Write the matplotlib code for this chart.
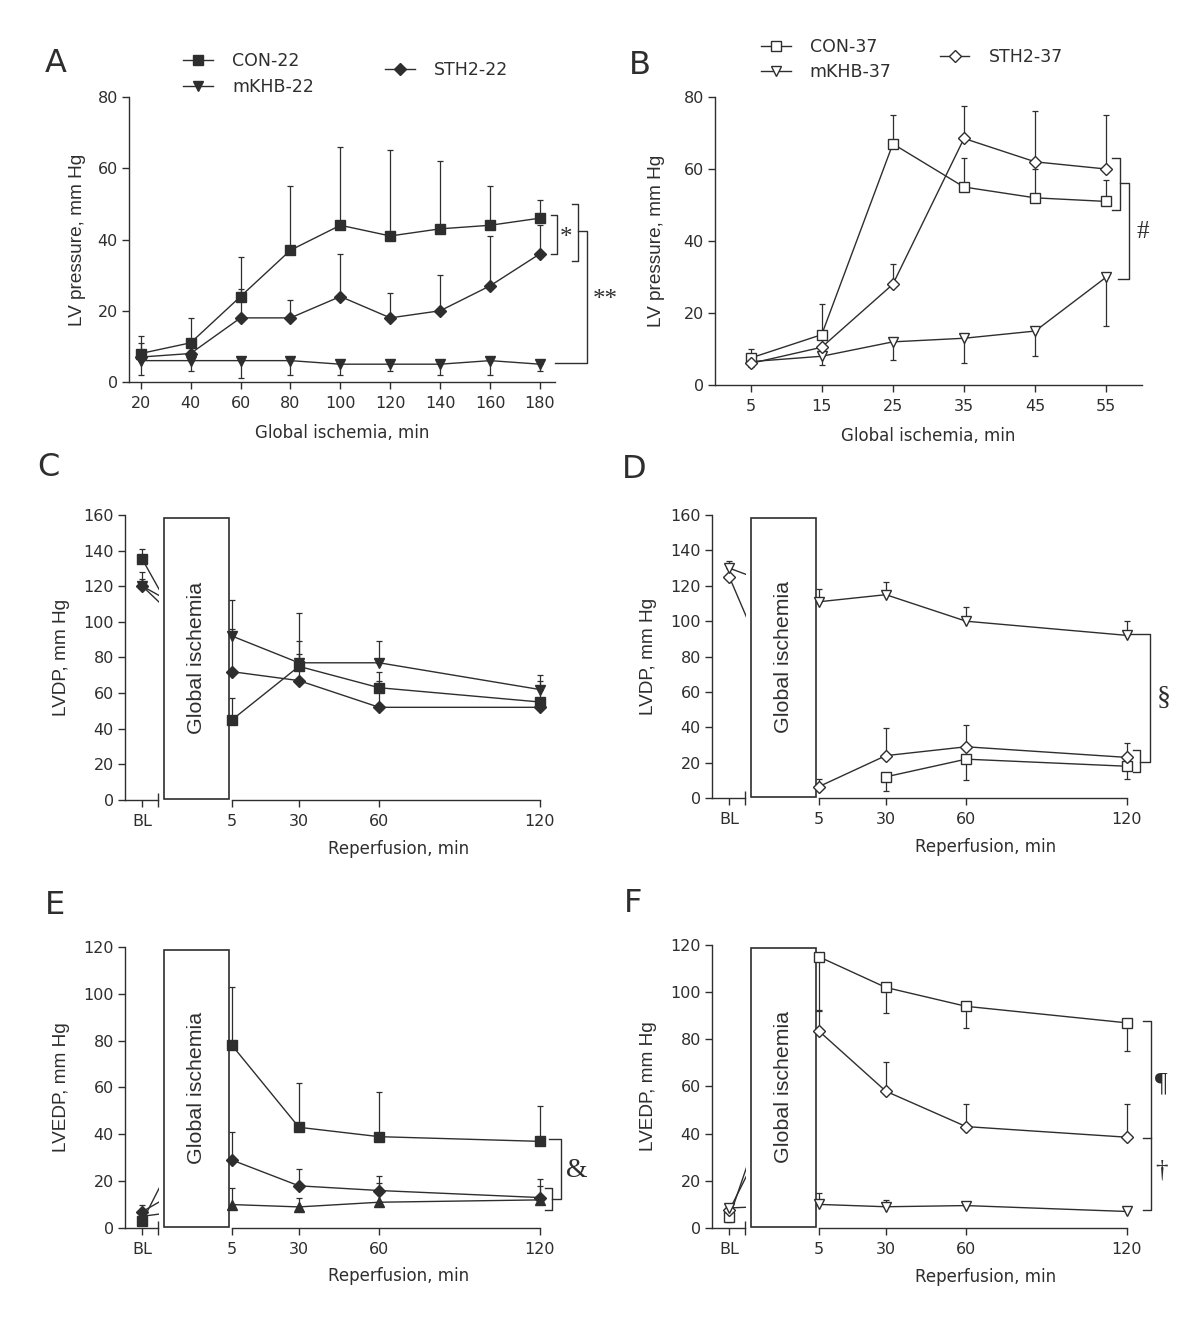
import numpy as np
import matplotlib
matplotlib.use('Agg')
import matplotlib.pyplot as plt
from matplotlib.lines import Line2D
from matplotlib.patches import Rectangle
from matplotlib.transforms import Bbox, TransformedBbox

plt.rcParams['font.family'] = ['DejaVu Sans']
INK = '#2e2e2e'
ROT_FONT = ['Liberation Sans', 'DejaVu Sans']   # rotated labels

# ============================================================
# DATA
# ============================================================

# A: LV pressure during global ischemia at 22 C
isch_22 = [20, 40, 60, 80, 100, 120, 140, 160, 180]
con22 = [8, 11, 24, 37, 44, 41, 43, 44, 46]
con22_sd = [5, 7, 11, 18, 22, 24, 19, 11, 5]
sth22 = [7, 8, 18, 18, 24, 18, 20, 27, 36]
sth22_sd = [4, 4, 8, 5, 12, 7, 10, 14, 8]
mkhb22 = [6, 6, 6, 6, 5, 5, 5, 6, 5]
mkhb22_sd = [4, 3, 5, 4, 3, 2, 3, 4, 2]

# B: LV pressure during global ischemia at 37 C
isch_37 = [5, 15, 25, 35, 45, 55]
con37 = [7.5, 14, 67, 55, 52, 51]
con37_sd = [2.5, 8.5, 8, 8, 8, 6]
sth37 = [6, 10.5, 28, 68.5, 62, 60]
sth37_sd = [2, 3, 5.5, 9, 14, 15]
mkhb37 = [6.5, 8, 12, 13, 15, 30]
mkhb37_sd = [1.5, 2.5, 5, 7, 7, 13.5]

# reperfusion time points (first one is baseline)
reperf_labels = ['BL', '5', '30', '60', '120']
reperf_min = [5, 30, 60, 120]

# C: LVDP at 22 C
con22_dp = [135, 45, 75, 63, 55]
con22_dp_sd = [6, 12, 30, 9, 12]
sth22_dp = [120, 72, 67, 52, 52]
sth22_dp_sd = [8, 24, 15, 15, 3]
mkhb22_dp = [120, 92, 77, 77, 62]
mkhb22_dp_sd = [4, 20, 12, 12, 8]

# D: LVDP at 37 C
con37_dp = [np.nan, np.nan, 12, 22, 18]
con37_dp_sd = [np.nan, np.nan, 8, 12, 7]
sth37_dp = [125, 6.5, 24, 29, 23]
sth37_dp_sd = [5, 4.5, 15.5, 12.5, 8]
mkhb37_dp = [130, 111, 115, 100, 92]
mkhb37_dp_sd = [4, 7, 7, 8, 8]

# E: LVEDP at 22 C
con22_edp = [3, 78, 43, 39, 37]
con22_edp_sd = [3, 25, 19, 19, 15]
sth22_edp = [7, 29, 18, 16, 13]
sth22_edp_sd = [3, 12, 7, 6, 8]
mkhb22_edp = [5, 10, 9, 11, 12]
mkhb22_edp_sd = [3, 7, 4, 8, 6]

# F: LVEDP at 37 C
con37_edp = [4.5, 115, 102, 94, 87]
con37_edp_sd = [2, 23, 11, 9, 12]
sth37_edp = [7.5, 83.5, 58, 43, 38.5]
sth37_edp_sd = [2, 9, 12.5, 9.5, 14]
mkhb37_edp = [8.5, 10, 9, 9.5, 7]
mkhb37_edp_sd = [1, 5, 3, 1, 2]

# ============================================================
# HELPERS
# ============================================================

BL_X = -28.5      # where baseline sits on the reperfusion axis
BL_END = -22.5    # end of the baseline axis segment
BOX_X = (-20.3, 4.0)

STYLE = {
    'CON': dict(marker='s', ms=7),
    'STH2': dict(marker='D', ms=6.5),
    'mKHB': dict(marker='v', ms=7.5),
}


def series(ax, x, y, sd, kind, filled, down=False, marker=None):
    st = dict(STYLE[kind])
    if marker:
        st['marker'] = marker
    x = np.asarray(x, float)
    y = np.asarray(y, float)
    sd = np.asarray(sd, float)
    err = [sd, np.zeros_like(sd)] if down else [np.zeros_like(sd), sd]
    ax.errorbar(x, y, yerr=err, fmt='none', ecolor=INK, elinewidth=0.9,
                capsize=2.5, capthick=0.9, zorder=2)
    ax.plot(x, y, color=INK, lw=1.0, marker=st['marker'], ms=st['ms'],
            mfc=INK if filled else 'white', mec=INK, mew=1.0, zorder=3)


def reperf_series(ax, y, sd, kind, filled, down=False, marker=None):
    x = [BL_X] + reperf_min
    y = np.asarray(y, float)
    series(ax, x[1:], y[1:], sd[1:], kind, filled, down, marker)
    if not np.isnan(y[0]):
        series(ax, [BL_X], [y[0]], [sd[0]], kind, filled, down, marker)
        # line from baseline heading to the first reperfusion point, cut at the break
        ln, = ax.plot([BL_X, reperf_min[0]], [y[0], y[1]], color=INK, lw=1.0, zorder=1)
        ln.set_clip_box(TransformedBbox(Bbox([[-50, -1e3], [BL_END + 0.3, 1e3]]),
                                        ax.transData))


def style_axes(ax, ylim, yticks):
    ax.set_ylim(*ylim)
    ax.set_yticks(yticks)
    for s in ['top', 'right']:
        ax.spines[s].set_visible(False)
    for s in ['left', 'bottom']:
        ax.spines[s].set_color(INK)
        ax.spines[s].set_linewidth(1.0)
    ax.tick_params(colors=INK, labelsize=11.5, length=5, width=1.0, pad=3)
    ax.tick_params(axis='x', pad=5)


def reperf_axes(ax, ylim, yticks, ylabel):
    style_axes(ax, ylim, yticks)
    ax.set_xlim(-35, 125)
    ax.spines['bottom'].set_visible(False)
    ax.plot([-35, BL_END], [0, 0], color=INK, lw=1.0, clip_on=False, zorder=4)
    ax.plot([reperf_min[0], reperf_min[-1]], [0, 0], color=INK, lw=1.0,
            clip_on=False, zorder=4)
    ax.set_xticks([BL_X] + reperf_min)
    ax.set_xticklabels(reperf_labels)
    ax.set_xticks([BL_END], minor=True)
    ax.tick_params(axis='x', which='minor', direction='inout', length=10,
                   width=1.0, color=INK)
    ax.add_patch(Rectangle((BOX_X[0], 0.005), BOX_X[1] - BOX_X[0], 0.985,
                           transform=ax.get_xaxis_transform(), fill=True,
                           fc='white', ec=INK, lw=1.2, zorder=1.5, clip_on=False))
    ax.text(np.mean(BOX_X), 0.5, 'Global ischemia', rotation=90, ha='center',
            va='center', fontsize=15.4, color=INK, family=ROT_FONT,
            transform=ax.get_xaxis_transform(), zorder=1.6)
    ax.set_ylabel(ylabel, fontsize=13.7, color=INK, family=ROT_FONT)
    ax.yaxis.set_label_coords(-0.128, 0.5)
    ax.set_xlabel('Reperfusion, min', fontsize=12, color=INK)
    ax.xaxis.set_label_coords(0.64, -0.14)


def bracket(ax, xs, ys):
    ax.plot(xs, ys, color=INK, lw=1.0, clip_on=False)


def mark(ax, x, y, s, size=18):
    ax.text(x, y, s, fontsize=size, color=INK, ha='center', va='center',
            family=['Liberation Serif', 'DejaVu Serif'])


# ============================================================
# FIGURE
# ============================================================

fig = plt.figure(figsize=(12, 13.31), dpi=100)

axA = fig.add_axes([0.1075, 0.713, 0.355, 0.2141])
axB = fig.add_axes([0.5958, 0.7107, 0.3558, 0.2164])
axC = fig.add_axes([0.1042, 0.399, 0.3567, 0.2141])
axD = fig.add_axes([0.5933, 0.4004, 0.3567, 0.2126])
axE = fig.add_axes([0.1042, 0.0774, 0.3567, 0.2111])
axF = fig.add_axes([0.5933, 0.0774, 0.3567, 0.2126])

# ---- A
series(axA, isch_22, mkhb22, mkhb22_sd, 'mKHB', True, down=True)
series(axA, isch_22, sth22, sth22_sd, 'STH2', True)
series(axA, isch_22, con22, con22_sd, 'CON', True)
style_axes(axA, (0, 80), [0, 20, 40, 60, 80])
axA.set_xlim(15.3, 186)
axA.set_xticks(isch_22)
axA.set_xlabel('Global ischemia, min', fontsize=12, color=INK)
axA.set_ylabel('LV pressure, mm Hg', fontsize=13.7, color=INK, family=ROT_FONT)
bracket(axA, [184.3, 186.7, 186.7, 184.3], [47, 47, 36, 36])
bracket(axA, [192.7, 195.4, 195.4, 192.7], [50, 50, 34, 34])
bracket(axA, [195.4, 198.8, 198.8, 185.9], [42.4, 42.4, 5.4, 5.4])
mark(axA, 190.6, 40.5, '*')
mark(axA, 206, 23.0, '**')

# ---- B
series(axB, isch_37, mkhb37, mkhb37_sd, 'mKHB', False, down=True)
series(axB, isch_37, con37, con37_sd, 'CON', False)
series(axB, isch_37, sth37, sth37_sd, 'STH2', False)
style_axes(axB, (0, 80), [0, 20, 40, 60, 80])
axB.set_xlim(0, 60)
axB.set_xticks(isch_37)
axB.set_xlabel('Global ischemia, min', fontsize=12, color=INK)
axB.set_ylabel('LV pressure, mm Hg', fontsize=13.7, color=INK, family=ROT_FONT)
bracket(axB, [55.8, 56.9, 56.9, 55.8], [63, 63, 48.7, 48.7])
bracket(axB, [56.9, 58.2, 58.2, 56.6], [56, 56, 29.4, 29.4])
mark(axB, 60.1, 42.4, '#')

# ---- C
reperf_series(axC, sth22_dp, sth22_dp_sd, 'STH2', True)
reperf_series(axC, mkhb22_dp, mkhb22_dp_sd, 'mKHB', True)
reperf_series(axC, con22_dp, con22_dp_sd, 'CON', True)
reperf_axes(axC, (0, 160), list(range(0, 161, 20)), 'LVDP, mm Hg')

# ---- D
reperf_series(axD, con37_dp, con37_dp_sd, 'CON', False, down=True)
reperf_series(axD, sth37_dp, sth37_dp_sd, 'STH2', False)
reperf_series(axD, mkhb37_dp, mkhb37_dp_sd, 'mKHB', False)
reperf_axes(axD, (0, 160), list(range(0, 161, 20)), 'LVDP, mm Hg')
bracket(axD, [122.5, 124.9, 124.9, 122.5], [27, 27, 14.6, 14.6])
bracket(axD, [124.9, 128.9, 128.9, 121.5], [20.6, 20.6, 92.9, 92.9])
mark(axD, 133.8, 56.3, '§', 20)

# ---- E
reperf_series(axE, mkhb22_edp, mkhb22_edp_sd, 'mKHB', True, marker='^')
reperf_series(axE, sth22_edp, sth22_edp_sd, 'STH2', True)
reperf_series(axE, con22_edp, con22_edp_sd, 'CON', True)
reperf_axes(axE, (0, 120), list(range(0, 121, 20)), 'LVEDP, mm Hg')
bracket(axE, [122.1, 124.5, 124.5, 122.1], [17, 17, 7.8, 7.8])
bracket(axE, [124.5, 127.8, 127.8, 123.5], [12.3, 12.3, 37.8, 37.8])
mark(axE, 133.9, 24.7, '&', 20)

# ---- F
reperf_series(axF, con37_edp, con37_edp_sd, 'CON', False, down=True)
reperf_series(axF, sth37_edp, sth37_edp_sd, 'STH2', False)
reperf_series(axF, mkhb37_edp, mkhb37_edp_sd, 'mKHB', False)
reperf_axes(axF, (0, 120), list(range(0, 121, 20)), 'LVEDP, mm Hg')
bracket(axF, [126.1, 129, 129, 126.1], [87.8, 87.8, 7.6, 7.6])
bracket(axF, [126.1, 129], [38.2, 38.2])
mark(axF, 133, 61.2, '¶', 20)
mark(axF, 133, 24.4, '†', 18)

# label positions
axA.yaxis.set_label_coords(-0.101, 0.5)
axB.yaxis.set_label_coords(-0.117, 0.5)
axA.xaxis.set_label_coords(0.5, -0.147)
axB.xaxis.set_label_coords(0.5, -0.146)

# ---- legends
def handle(kind, filled, label):
    st = STYLE[kind]
    return Line2D([], [], color=INK, lw=1.0, marker=st['marker'], ms=st['ms'],
                  mfc=INK if filled else 'white', mec=INK, label=label)

leg_kw = dict(frameon=False, loc='center left', borderpad=0, borderaxespad=0,
              fontsize=12.5, handlelength=1.72, handletextpad=1.1,
              labelspacing=0.45, labelcolor=INK)
fig.legend(handles=[handle('CON', True, 'CON-22'), handle('mKHB', True, 'mKHB-22')],
           bbox_to_anchor=(0.1525, 0.9444), **leg_kw)
fig.legend(handles=[handle('STH2', True, 'STH2-22')],
           bbox_to_anchor=(0.3208, 0.9474), **leg_kw)
fig.legend(handles=[handle('CON', False, 'CON-37'), handle('mKHB', False, 'mKHB-37')],
           bbox_to_anchor=(0.634, 0.9553), **leg_kw)
fig.legend(handles=[handle('STH2', False, 'STH2-37')],
           bbox_to_anchor=(0.783, 0.957), **leg_kw)

# ---- panel letters
for letter, (px, py) in zip('ABCDEF', [(56, 63), (640, 65), (48, 468),
                                       (634, 470), (55, 905), (633, 903)]):
    fig.text(px / 1200, 1 - py / 1331, letter, fontsize=23, color=INK,
             ha='center', va='center')

fig.savefig('out.png', dpi=100, facecolor='white')
